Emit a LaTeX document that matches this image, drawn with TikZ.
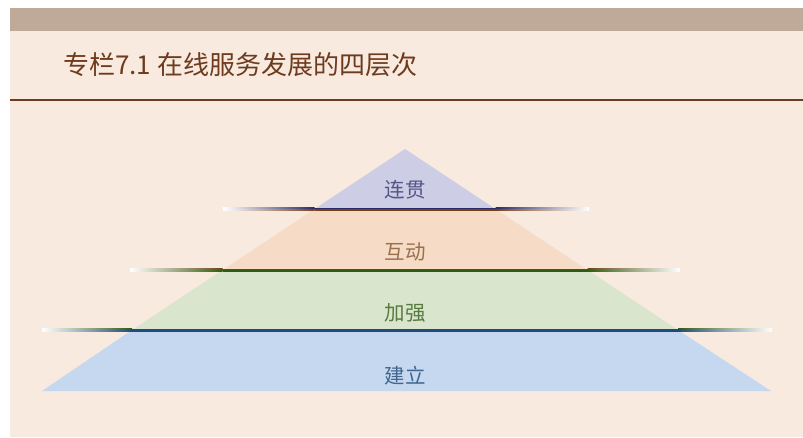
\documentclass[tikz,border=0pt]{standalone}
\usepackage{fontspec}
\newfontfamily\cjk{Noto Sans CJK SC}
\usepackage{tikz}
\usetikzlibrary{positioning}
\usepackage{xcolor}
\definecolor{paper}{HTML}{F8EADF}
\definecolor{taupe}{HTML}{BFAA9A}
\definecolor{rust}{HTML}{6E3B1F}
\definecolor{lavender}{HTML}{CECDE6}
\definecolor{peach}{HTML}{F6DCC6}
\definecolor{sage}{HTML}{D9E5CC}
\definecolor{sky}{HTML}{C5D8EF}
\definecolor{navyline}{HTML}{2B2A6B}
\definecolor{brownline}{HTML}{7A4012}
\definecolor{greenline}{HTML}{2F5A10}
\definecolor{blueline}{HTML}{1F4A7A}

\begin{document}
\begin{tikzpicture}[
    x=1pt, y=-1pt,
    layerLabel/.style={font=\cjk\fontsize{20.5}{20.5}\selectfont, inner sep=0pt},
    titleText/.style={font=\cjk\fontsize{26}{26}\selectfont, text=rust, anchor=west, inner sep=0pt}
]
    % Cornice e sfondo
    \useasboundingbox (0,0) rectangle (803,437);
    \fill[white] (0,0) rectangle (803,437);
    \fill[paper] (10,8) rectangle (803,437);
    \fill[taupe] (10,8) rectangle (803,31);
    \node[titleText] (title) at (63,65) {专栏7.1 在线服务发展的四层次};
    \fill[rust] (10,99) rectangle (803,101);

    % Strati della piramide (apice 405,149 -- base y=391)
    \fill[lavender] (405,149) -- (495.5,209) -- (314.5,209) -- cycle;
    \fill[peach] (314.5,209) -- (495.5,209) -- (587.5,270) -- (222.5,270) -- cycle;
    \fill[sage] (222.5,270) -- (587.5,270) -- (678,330) -- (132,330) -- cycle;
    \fill[sky] (132,330) -- (678,330) -- (771,391) -- (42,391) -- cycle;

    % Linee di separazione: doppio filo, sfumato verso il bianco alle estremita
    \fill[navyline] (314.5,207.5) rectangle (495.5,209);
    \fill[brownline] (314.5,209) rectangle (495.5,210.5);
    \shade[left color=white, right color=navyline] (223,207.5) rectangle (314.5,209);
    \shade[left color=white, right color=brownline] (223,209) rectangle (314.5,210.5);
    \shade[left color=navyline, right color=white] (495.5,207.5) rectangle (589,209);
    \shade[left color=brownline, right color=white] (495.5,209) rectangle (589,210.5);

    \fill[brownline] (222.5,268.5) rectangle (587.5,270);
    \fill[greenline] (222.5,270) rectangle (587.5,271.5);
    \shade[left color=white, right color=brownline!70!greenline] (130,268.5) rectangle (222.5,270);
    \shade[left color=white, right color=greenline] (130,270) rectangle (222.5,271.5);
    \shade[left color=brownline!70!greenline, right color=white] (587.5,268.5) rectangle (680,270);
    \shade[left color=greenline, right color=white] (587.5,270) rectangle (680,271.5);

    \fill[greenline] (132,328.5) rectangle (678,330);
    \fill[blueline] (132,330) rectangle (678,331.5);
    \shade[left color=white, right color=greenline] (42,328.5) rectangle (132,330);
    \shade[left color=white, right color=blueline] (42,330) rectangle (132,331.5);
    \shade[left color=greenline, right color=white] (678,328.5) rectangle (772,330);
    \shade[left color=blueline, right color=white] (678,330) rectangle (772,331.5);

    % Etichette degli strati
    \node[layerLabel, text=navyline!80] (coherence) at (405,190) {连贯};
    \node[layerLabel, text=brownline!75] (interaction) at (405,252) {互动};
    \node[layerLabel, text=greenline!80] (enhance) at (405,313) {加强};
    \node[layerLabel, text=blueline!85] (establish) at (405,376) {建立};
\end{tikzpicture}
\end{document}
